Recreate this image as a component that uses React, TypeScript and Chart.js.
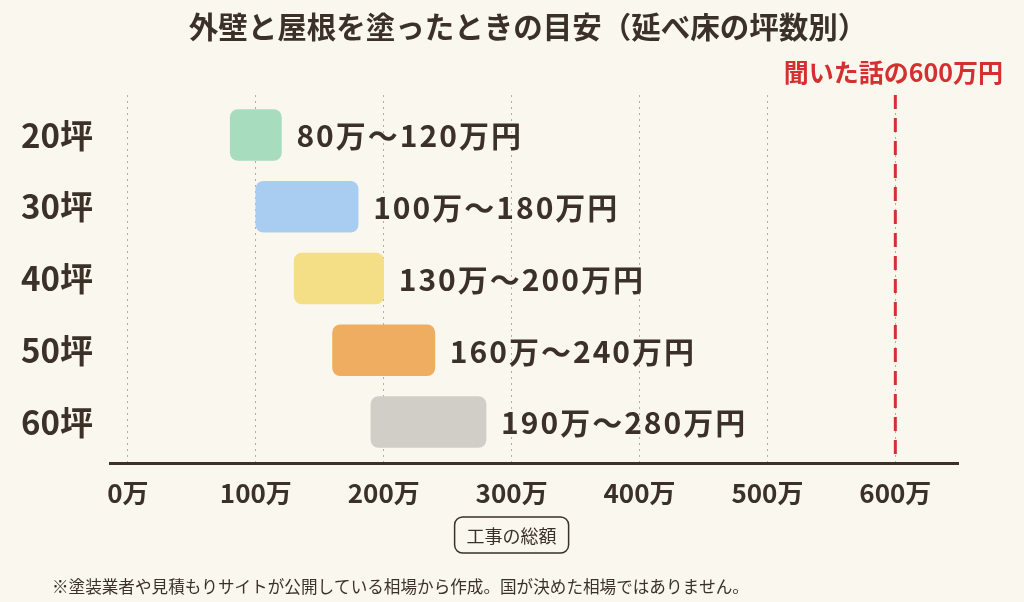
import React, { useEffect, useRef } from 'react';
import { Chart, registerables } from 'chart.js';

Chart.register(...registerables);

// ---- data ----
const categories = ['20坪', '30坪', '40坪', '50坪', '60坪'];
const lowValues = [80, 100, 130, 160, 190];
const highValues = [120, 180, 200, 240, 280];
const barColors = ['#a7dcbf', '#a8cdf1', '#f4de86', '#efad62', '#d1cec8'];
const xTickValues = [0, 100, 200, 300, 400, 500, 600];
const referenceValue = 600;
const referenceLabel = '聞いた話の600万円';
const titleText = '外壁と屋根を塗ったときの目安（延べ床の坪数別）';
const axisTitle = '工事の総額';
const footnote = '※塗装業者や見積もりサイトが公開している相場から作成。国が決めた相場ではありません。';

const FONT = "'Noto Sans CJK JP', 'Noto Sans', sans-serif";
const DARK = '#3b3129';
const RED = '#d3302f';
const BG = '#faf7ef';
const Y_MIN = -0.5575;
const Y_MAX = 4.5714;

const rangeLabel = (i: number) => `${lowValues[i]}万〜${highValues[i]}万円`;

const decorPlugin = {
  id: 'decor',
  beforeDraw(chart: any) {
    const { ctx, width, height } = chart;
    ctx.save();
    ctx.fillStyle = BG;
    ctx.fillRect(0, 0, width, height);
    ctx.restore();
  },
  afterDatasetsDraw(chart: any) {
    const { ctx } = chart;
    const meta = chart.getDatasetMeta(0);
    ctx.save();
    ctx.font = `bold 30px ${FONT}`;
    (ctx as any).letterSpacing = '2px';
    ctx.fillStyle = DARK;
    ctx.textAlign = 'left';
    ctx.textBaseline = 'middle';
    meta.data.forEach((bar: any, i: number) => {
      const p = bar.getProps(['x', 'y'], true);
      ctx.fillText(rangeLabel(i), p.x + 15, p.y + 1);
    });
    ctx.restore();
  },
  afterDraw(chart: any) {
    const { ctx } = chart;
    const xs = chart.scales.x;
    ctx.save();
    // title
    ctx.font = `bold 29.5px ${FONT}`;
    ctx.fillStyle = DARK;
    ctx.textAlign = 'center';
    ctx.textBaseline = 'middle';
    ctx.fillText(titleText, 528, 27);
    // reference label
    ctx.font = `bold 25px ${FONT}`;
    ctx.fillStyle = RED;
    ctx.fillText(referenceLabel, xs.getPixelForValue(referenceValue) - 2, 72);
    // axis title box
    const cx = xs.getPixelForValue(300);
    ctx.font = `18px ${FONT}`;
    const tw = ctx.measureText(axisTitle).width;
    const bw = tw + 24;
    const bh = 36;
    const bx = cx - bw / 2;
    const by = 517;
    ctx.beginPath();
    ctx.roundRect(bx, by, bw, bh, 8);
    ctx.lineWidth = 1.5;
    ctx.strokeStyle = DARK;
    ctx.stroke();
    ctx.fillStyle = DARK;
    ctx.fillText(axisTitle, cx, by + bh / 2 + 1);
    // footnote
    ctx.font = `16.6px ${FONT}`;
    ctx.textAlign = 'left';
    ctx.fillText(footnote, 52, 587);
    ctx.restore();
  },
};

export default function App() {
  const ref = useRef<HTMLCanvasElement | null>(null);

  useEffect(() => {
    document.body.style.margin = '0';
    document.body.style.background = BG;
    const canvas = ref.current;
    if (!canvas) return;
    const chart = new Chart(canvas, {
      type: 'bar',
      data: {
        datasets: [
          {
            type: 'bar',
            data: categories.map((_, i) => ({ x: [lowValues[i], highValues[i]], y: i })) as any,
            backgroundColor: barColors,
            borderRadius: 8,
            borderSkipped: false,
            barThickness: 51,
            order: 2,
          } as any,
          {
            type: 'line',
            data: [
              { x: referenceValue, y: Y_MIN },
              { x: referenceValue, y: Y_MAX },
            ] as any,
            borderColor: RED,
            borderWidth: 3,
            borderDash: [14, 9],
            pointRadius: 0,
            fill: false,
            order: 1,
          } as any,
        ],
      },
      options: {
        indexAxis: 'y',
        responsive: false,
        animation: false,
        devicePixelRatio: 1,
        layout: { padding: { top: 95, right: 66, left: 0, bottom: 79 } },
        plugins: {
          legend: { display: false },
          tooltip: { enabled: false },
          title: { display: false },
        },
        scales: {
          x: {
            type: 'linear',
            position: 'bottom',
            min: -14,
            max: 649,
            afterBuildTicks: (s: any) => {
              s.ticks = xTickValues.map((v) => ({ value: v }));
            },
            afterFit: (s: any) => {
              s.height = 60;
            },
            ticks: {
              autoSkip: false,
              maxRotation: 0,
              padding: 15,
              color: DARK,
              font: { family: FONT, size: 26, weight: 'bold' },
              callback: (v: any) => `${v}万`,
            },
            grid: { color: '#b3ada4', lineWidth: 1, drawTicks: false },
            border: { display: true, color: DARK, width: 3, dash: [2, 4] },
          },
          y: {
            type: 'linear',
            reverse: true,
            min: Y_MIN,
            max: Y_MAX,
            offset: false,
            afterBuildTicks: (s: any) => {
              s.ticks = categories.map((_, i) => ({ value: i }));
            },
            afterFit: (s: any) => {
              s.width = 110;
            },
            ticks: {
              padding: 17,
              color: DARK,
              font: { family: FONT, size: 33, weight: 'bold' },
              callback: (_v: any, i: number) => categories[i],
            },
            grid: { display: false, drawTicks: false },
            border: { display: false },
          },
        },
      } as any,
      plugins: [decorPlugin],
    });
    return () => chart.destroy();
  }, []);

  return (
    <div style={{ position: 'fixed', left: 0, top: 0, width: 1024, height: 602, background: BG }}>
      <canvas ref={ref} width={1024} height={602} style={{ width: 1024, height: 602, display: 'block' }} />
    </div>
  );
}
